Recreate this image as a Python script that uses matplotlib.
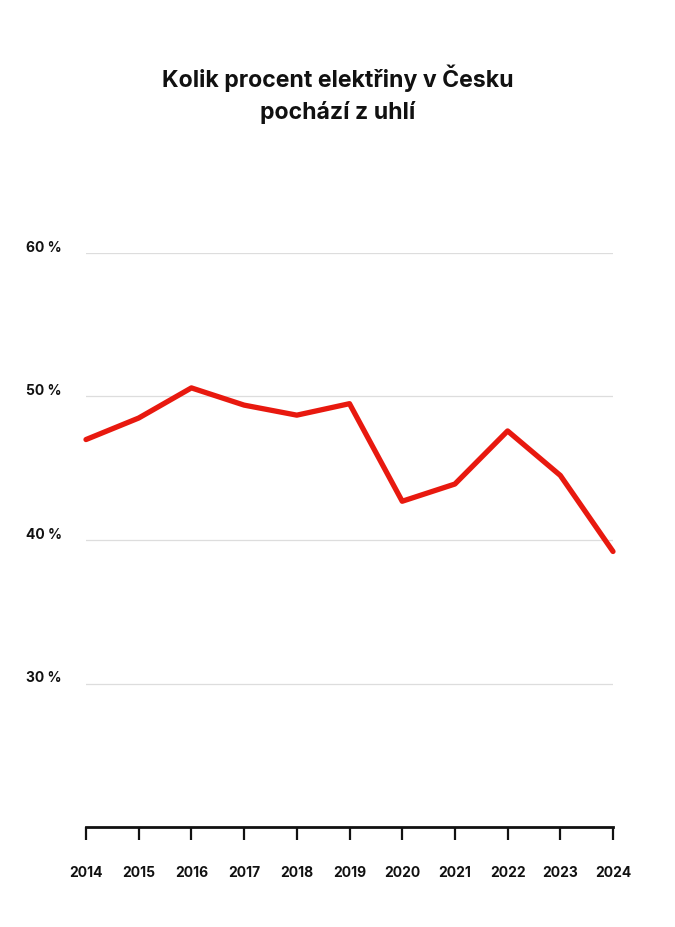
import matplotlib.pyplot as plt
import numpy as np

plt.rcParams['font.family'] = ['Inter', 'DejaVu Sans']

years = [2014, 2015, 2016, 2017, 2018, 2019, 2020, 2021, 2022, 2023, 2024]
coal_share = [47.0, 48.5, 50.6, 49.4, 48.7, 49.5, 42.7, 43.9, 47.6, 44.5, 39.2]
y_ticks = [30, 40, 50, 60]
y_labels = ['30 %', '40 %', '50 %', '60 %']

fig = plt.figure(figsize=(6.75, 9.27), dpi=100)
ax = fig.add_axes([86/675, 1 - 827/927, (613-86)/675, (827-253)/927])

ax.plot(years, coal_share, color='#e8190f', linewidth=3.8,
        solid_joinstyle='round', solid_capstyle='round', zorder=3, clip_on=False)

ax.set_xlim(2014, 2024)
ax.set_ylim(20, 60)

for v in y_ticks:
    ax.axhline(v, color='#dddddd', linewidth=0.9, zorder=1)
for v, lab in zip(y_ticks, y_labels):
    ax.text(-0.114, v + 0.35, lab, transform=ax.get_yaxis_transform(),
            ha='left', va='center', fontsize=10, fontweight='bold', color='#111111')

ax.set_yticks([])
ax.set_xticks(years)
ax.set_xticklabels([str(y) for y in years], fontsize=10, fontweight='bold', color='#111111')
ax.tick_params(axis='x', length=9, width=1.6, color='#111111', pad=19)

for s in ['top', 'right', 'left']:
    ax.spines[s].set_visible(False)
ax.spines['bottom'].set_linewidth(2)
ax.spines['bottom'].set_color('#111111')

fig.text(0.5, 1 - 78/927, 'Kolik procent elektřiny v Česku', ha='center', va='center',
         fontsize=16.6, fontweight='bold', color='#111111')
fig.text(0.5, 1 - 113/927, 'pochází z uhlí', ha='center', va='center',
         fontsize=16.6, fontweight='bold', color='#111111')

fig.savefig('out.png', dpi=100, facecolor='white')
